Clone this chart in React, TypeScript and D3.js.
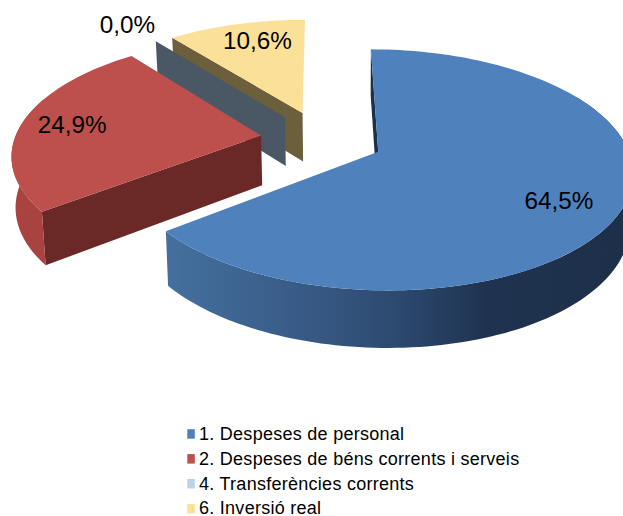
import React from "react";
import * as d3 from "d3";

const categories = ["1. Despeses de personal", "2. Despeses de béns corrents i serveis", "4. Transferències corrents", "6. Inversió real"];
const values = [64.5, 24.9, 0.0, 10.6];
const valueLabels = ["64,5%", "24,9%", "0,0%", "10,6%"];
const labelAngleNudge = [4, 0, 0, 3];
const labelRadius = [0.77, 0.79, 1.25, 0.79];
const topColors = ["#4f81bd", "#bd4f4c", "#b9d3ec", "#fbe097"];
const wallColors = ["#1b304b", "#6a2827", "#4a5866", "#6b5f3c"];
const rimColors = ["url(#blueRim)", "#a8433f", "none", "none"];
const drawOrder = [3, 2, 1, 0];

const W = 623, H = 516;
const CX = 322, CY = 139, RX = 246.5, RY = 114, PERSP = 0.148, EXPLODE = 0.25;
const RAD = Math.PI / 180;
type P = [number, number];

const pie = d3.pie<number>().sort(null).value((d) => d);
const line = d3.line<P>().x((d) => d[0]).y((d) => d[1]);

function project(u: number, v: number): P {
  const s = 1 / (1 + PERSP * v);
  return [CX + RX * u * s, CY - RY * v * s];
}
function down(p: P): P {
  return [p[0] + (350 - p[0]) * 0.012, p[1] + 43 + 0.05 * p[1]];
}
function sliceGeometry(start: number, end: number) {
  const mid = (start + end) / 2;
  const ou = EXPLODE * Math.sin(mid), ov = EXPLODE * Math.cos(mid);
  const at = (a: number, r: number) => project(ou + r * Math.sin(a), ov + r * Math.cos(a));
  const arc = (a0: number, a1: number) => {
    const n = Math.max(2, Math.ceil(Math.abs(a1 - a0) / (1.5 * RAD)));
    return d3.range(n + 1).map((i) => at(a0 + ((a1 - a0) * i) / n, 1));
  };
  return { mid, at, arc };
}

export default function App() {
  const arcs = pie(values);
  return (
    <svg width={W} height={H} viewBox={`0 0 ${W} ${H}`} style={{ position: "absolute", left: 0, top: 0, display: "block", background: "#fff" }}>
      <defs>
        <linearGradient id="blueRim" gradientUnits="userSpaceOnUse" x1="165" y1="0" x2="623" y2="0">
          <stop offset="0" stopColor="#44709f" />
          <stop offset="0.3" stopColor="#385b86" />
          <stop offset="0.5" stopColor="#2d4a70" />
          <stop offset="0.7" stopColor="#1f3350" />
          <stop offset="1" stopColor="#1d2f49" />
        </linearGradient>
      </defs>
      {drawOrder.map((i) => {
        const d = arcs[i];
        const g = sliceGeometry(d.startAngle, d.endAngle);
        const apex = g.at(0, 0);
        const rimStart = g.at(d.startAngle, 1);
        const wall = [apex, rimStart, down(rimStart), down(apex)];
        const a0 = Math.max(d.startAngle, 60 * RAD);
        const a1 = Math.min(d.endAngle, 290 * RAD);
        const rimTop = a1 > a0 ? g.arc(a0, a1) : [];
        const rim = rimTop.length ? [...rimTop, ...rimTop.map(down).reverse()] : [];
        const top = d.endAngle > d.startAngle ? [apex, ...g.arc(d.startAngle, d.endAngle)] : [];
        return (
          <g key={i}>
            <path d={(line(wall) ?? "") + "Z"} fill={wallColors[i]} />
            {rim.length > 0 && <path d={(line(rim) ?? "") + "Z"} fill={rimColors[i]} />}
            {top.length > 0 && <path d={(line(top) ?? "") + "Z"} fill={topColors[i]} />}
          </g>
        );
      })}
      {arcs.map((d, i) => {
        const g = sliceGeometry(d.startAngle, d.endAngle);
        const [x, y] = g.at(g.mid + labelAngleNudge[i] * RAD, labelRadius[i]);
        return (
          <text key={i} x={x} y={y} dy="0.35em" textAnchor="middle" fontFamily="Liberation Sans" fontSize={24.3} fill="#000">
            {valueLabels[i]}
          </text>
        );
      })}
      {categories.map((c, i) => (
        <g key={c} transform={`translate(187,${439.7 + i * 24.9})`}>
          <rect x={0.3} y={-10.5} width={7.5} height={9.5} fill={topColors[i]} />
          <text x={12} y={0} fontFamily="Liberation Sans" fontSize={18} letterSpacing={0.27} fill="#000">{c}</text>
        </g>
      ))}
    </svg>
  );
}
